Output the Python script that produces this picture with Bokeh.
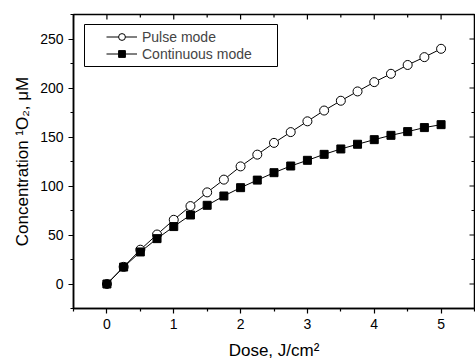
from bokeh.plotting import figure
from bokeh.models import FixedTicker, Legend, BoxAnnotation, Node
from bokeh.embed import file_html
from bokeh.resources import INLINE

dose = [0, 0.25, 0.5, 0.75, 1.0, 1.25, 1.5, 1.75, 2.0, 2.25, 2.5, 2.75, 3.0,
        3.25, 3.5, 3.75, 4.0, 4.25, 4.5, 4.75, 5.0]
pulse = [0, 17.5, 35, 50.5, 65.5, 79.5, 93.5, 106.5, 120, 132, 144, 155, 166,
         177, 187, 196.5, 206, 214.5, 223.5, 231.5, 240]
continuous = [0, 17.3, 32.7, 46.3, 58.6, 70.4, 80.3, 89.8, 98.3, 106, 113.6,
              120.4, 126.2, 132.3, 137.8, 142.6, 147.3, 151.7, 155.5, 159.6, 162.6]
x_ticks = [0, 1, 2, 3, 4, 5]
x_minor = [-0.5, 0.5, 1.5, 2.5, 3.5, 4.5, 5.5]
y_ticks = [0, 50, 100, 150, 200, 250]
y_minor = [-25, 25, 75, 125, 175, 225, 275]
x_lim = (-0.5, 5.5)
y_lim = (-25, 275)

FONT = "Liberation Sans"
W, H = 475, 363
BL, BR, BT, BB = 73, 1, 14, 55
FW, FH = W - BL - BR, H - BT - BB

p = figure(width=W, height=H, x_range=x_lim, y_range=y_lim,
           output_backend="svg", toolbar_location=None,
           min_border_left=BL, min_border_right=BR, min_border_top=BT,
           min_border_bottom=BB)
p.xgrid.visible = False
p.ygrid.visible = False
p.outline_line_color = "black"
p.outline_line_width = 1.5
p.background_fill_color = "white"
p.border_fill_color = "white"

p.xaxis.ticker = FixedTicker(ticks=x_ticks, minor_ticks=x_minor)
p.yaxis.ticker = FixedTicker(ticks=y_ticks, minor_ticks=y_minor)

for ax in list(p.xaxis) + list(p.yaxis):
    ax.axis_line_color = "black"
    ax.axis_line_width = 1.5
    ax.major_tick_line_color = "black"
    ax.minor_tick_line_color = "black"
    ax.major_tick_line_width = 1.2
    ax.minor_tick_line_width = 1.2
    ax.major_tick_out = 5
    ax.major_tick_in = 0
    ax.minor_tick_out = 3
    ax.minor_tick_in = 0
    ax.major_label_text_font = FONT
    ax.major_label_text_font_size = "14px"
    ax.major_label_text_color = "black"
    ax.axis_label_text_font = FONT
    ax.axis_label_text_font_size = "17px"
    ax.axis_label_text_font_style = "normal"
    ax.axis_label_text_color = "black"

p.xaxis.axis_label = "Dose, J/cm\u00b2"
p.yaxis.axis_label = "Concentration \u00b9O\u2082, \u03bcM"
p.xaxis.major_label_standoff = 5
p.xaxis.axis_label_standoff = 9
p.yaxis.major_label_standoff = 5
p.yaxis.axis_label_standoff = 5

# mirrored inward ticks on top and right edges
dx = (x_lim[1] - x_lim[0]) / FW
dy = (y_lim[1] - y_lim[0]) / FH
for ticks, ln in ((x_ticks, 5), (x_minor, 3)):
    p.segment(x0=ticks, y0=[y_lim[1]] * len(ticks), x1=ticks,
              y1=[y_lim[1] - ln * dy] * len(ticks), line_color="black", line_width=1.2)
for ticks, ln in ((y_ticks, 5), (y_minor, 3)):
    p.segment(x0=[x_lim[1]] * len(ticks), y0=ticks, x1=[x_lim[1] - ln * dx] * len(ticks),
              y1=ticks, line_color="black", line_width=1.2)

lp = p.line(dose, pulse, line_color="black", line_width=1)
sp = p.scatter(dose, pulse, marker="circle", size=9, fill_color="white",
               line_color="black", line_width=1)
lc = p.line(dose, continuous, line_color="black", line_width=1)
sc = p.scatter(dose, continuous, marker="square", size=8, fill_color="black",
               line_color="black")

box = BoxAnnotation(left=Node(target="frame", symbol="left", offset=11),
                    right=Node(target="frame", symbol="left", offset=204),
                    top=Node(target="frame", symbol="top", offset=10),
                    bottom=Node(target="frame", symbol="top", offset=52),
                    fill_color="white", fill_alpha=1, line_color="black",
                    line_width=1, line_alpha=1)
p.add_layout(box)

legend = Legend(items=[("Pulse mode", [lp, sp]), ("Continuous mode", [lc, sc])],
                location=(29, 242))
legend.margin = 0
legend.padding = 4
legend.spacing = 0
legend.glyph_width = 31
legend.glyph_height = 17
legend.label_height = 17
legend.label_standoff = 5
legend.label_text_font = FONT
legend.label_text_font_size = "14px"
legend.border_line_alpha = 0
legend.background_fill_alpha = 0
p.add_layout(legend)

open("out.html", "w").write(file_html(p, INLINE))
